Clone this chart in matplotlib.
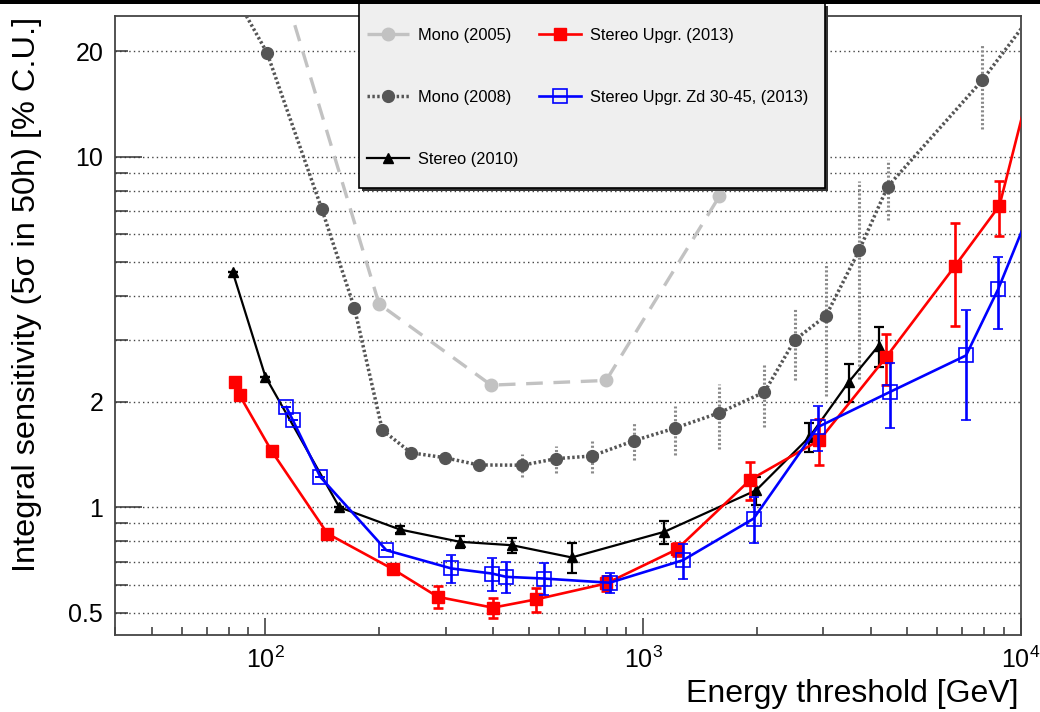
import matplotlib
matplotlib.use('Agg')
import matplotlib.pyplot as plt
from matplotlib.patches import Rectangle
from matplotlib.ticker import FixedLocator, FuncFormatter, NullFormatter

# Energy threshold [GeV] and integral sensitivity [% C.U.]
mono05_energy = [100, 200, 396, 798, 1590, 3000]
mono05_sens = [45, 3.8, 2.23, 2.30, 7.7, 28]

mono08_energy = [80, 101, 141, 172, 204, 243, 298, 367, 479, 589, 731, 948,
                 1211, 1585, 2094, 2519, 3049, 3732, 4436, 7889, 12000]
mono08_sens = [31, 19.8, 7.1, 3.71, 1.66, 1.43, 1.385, 1.32, 1.318, 1.376, 1.40,
               1.55, 1.68, 1.857, 2.13, 3.0, 3.52, 5.42, 8.21, 16.5, 30]
mono08_err = [0, 0, 0, 0, 0, 0, 0.03, 0.05, 0.1, 0.12, 0.15, 0.19,
              0.27, 0.39, 0.44, 0.7, 1.45, 3.1, 1.6, 4.5, 0]

stereo10_energy = [82, 100, 157, 227, 327, 450, 647, 1138, 1991, 2754, 3498, 4199]
stereo10_sens = [4.68, 2.36, 1.00, 0.864, 0.797, 0.779, 0.719, 0.851, 1.118,
                 1.586, 2.275, 2.89]
stereo10_err = [0, 0, 0, 0.02, 0.033, 0.04, 0.07, 0.065, 0.1, 0.15, 0.28, 0.38]

upgr_energy = [83, 85.5, 104, 146, 218, 286, 400, 521, 798, 1227, 1923, 2925,
               4396, 6700, 8770, 11000]
upgr_sens = [2.275, 2.085, 1.444, 0.841, 0.665, 0.555, 0.517, 0.546, 0.606,
             0.758, 1.199, 1.552, 2.68, 4.89, 7.25, 19]
upgr_err = [0, 0, 0, 0, 0.02, 0.04, 0.035, 0.044, 0.03, 0.03, 0.15, 0.23,
            0.45, 1.6, 1.3, 0]

zd_energy = [113.6, 118.3, 139.8, 209, 310.5, 397.6, 434, 545, 815, 1274, 1960,
             2898, 4488, 7153, 8710, 11000]
zd_sens = [1.931, 1.77, 1.22, 0.754, 0.669, 0.647, 0.633, 0.626, 0.609, 0.706,
           0.928, 1.693, 2.13, 2.71, 4.20, 7.8]
zd_err = [0, 0, 0, 0, 0.06, 0.07, 0.063, 0.065, 0.04, 0.08, 0.14, 0.25, 0.45,
          0.94, 0.97, 0]

labels = ['Mono (2005)', 'Mono (2008)', 'Stereo (2010)',
          'Stereo Upgr. (2013)', 'Stereo Upgr. Zd 30-45, (2013)']

y_major = [1, 10]
y_minor = [0.5, 0.6, 0.7, 0.8, 0.9, 2, 3, 4, 5, 6, 7, 8, 9, 20]
y_minor_labels = [0.5, 2, 20]

W, H = 1040, 712


def px_x(p):
    return p / W


def px_y(p):
    return 1 - p / H


def main():
    plt.rcParams['font.family'] = ['Liberation Sans', 'DejaVu Sans']
    plt.rcParams['mathtext.fontset'] = 'custom'
    plt.rcParams['mathtext.rm'] = 'Liberation Sans'
    plt.rcParams['mathtext.it'] = 'Liberation Sans:italic'
    plt.rcParams['mathtext.bf'] = 'Liberation Sans:bold'

    fig = plt.figure(figsize=(W / 100, H / 100), dpi=100)
    ax = fig.add_axes([px_x(115), px_y(635), px_x(1021) - px_x(115), px_y(16) - px_y(635)])

    # Mono (2005): light gray dashed
    h05, = ax.plot(mono05_energy, mono05_sens, color='#c2c2c2', lw=2.4,
                   ls=(0, (5, 3.2)), marker='o', ms=9, mec='#c2c2c2', mfc='#c2c2c2',
                   zorder=2)

    # Mono (2008): dark gray dotted with dotted error bars
    eb08 = ax.errorbar(mono08_energy, mono08_sens, yerr=mono08_err, color='#555555',
                       lw=2.5, ls=(0, (0.7, 0.7)), marker='o', ms=8.5, capsize=0,
                       elinewidth=2.2, zorder=3)
    eb08[2][0].set_linestyle((0, (0.7, 0.7)))
    eb08[2][0].set_color('#8a8a8a')
    h08 = eb08[0]

    # Stereo (2010)
    eb10 = ax.errorbar(stereo10_energy, stereo10_sens, yerr=stereo10_err, color='black',
                       lw=1.6, marker='^', ms=6.5, capsize=3.5, elinewidth=1.6,
                       capthick=1.6, zorder=4)
    h10 = eb10[0]

    # Stereo Upgr. (2013)
    ebu = ax.errorbar(upgr_energy, upgr_sens, yerr=upgr_err, color='#ff0000',
                      lw=1.9, marker='s', ms=8.5, capsize=3.5, elinewidth=1.9,
                      capthick=1.9, zorder=5)
    hu = ebu[0]

    # Stereo Upgr. Zd 30-45 (2013): open squares
    ebz = ax.errorbar(zd_energy, zd_sens, yerr=zd_err, color='#0000ff', lw=1.9,
                      marker='s', ms=9.5, mfc='none', mec='#0000ff', mew=1.2,
                      capsize=3.5, elinewidth=1.9, capthick=1.9, zorder=6)
    hz = ebz[0]

    ax.set_xscale('log')
    ax.set_yscale('log')
    ax.set_xlim(40, 10000)
    ax.set_ylim(0.432, 25.2)

    ax.yaxis.set_major_locator(FixedLocator(y_major))
    ax.yaxis.set_minor_locator(FixedLocator(y_minor))
    ax.yaxis.set_major_formatter(FuncFormatter(lambda v, p: '%g' % v))
    ax.yaxis.set_minor_formatter(
        FuncFormatter(lambda v, p: '%g' % v if any(abs(v - m) < 1e-9 for m in y_minor_labels) else ''))
    ax.xaxis.set_minor_formatter(NullFormatter())

    ax.grid(axis='y', which='both', color='#444444', lw=1.0, ls=(0, (1, 2.3)), zorder=0)
    ax.set_axisbelow(True)

    ax.tick_params(axis='both', which='both', direction='in', colors='#333333',
                   labelcolor='black', labelsize=18, width=1.1, top=False, right=False)
    ax.tick_params(axis='y', which='major', length=19.5, pad=8.5)
    ax.tick_params(axis='y', which='minor', length=9.5, pad=8.5)
    ax.tick_params(axis='x', which='major', length=12.5, pad=8)
    ax.tick_params(axis='x', which='minor', length=6)
    for s in ax.spines.values():
        s.set_color('#444444')
        s.set_linewidth(1.3)

    fig.text(px_x(1018), px_y(702), 'Energy threshold [GeV]', fontsize=23,
             ha='right', va='baseline')
    fig.text(px_x(12), px_y(17), 'Integral sensitivity (5σ in 50h) [% C.U.]',
             fontsize=23.4, rotation=90, ha='left', va='top')

    # legend box with shadow, drawn over the plot area
    fig.add_artist(Rectangle((px_x(362), px_y(191)), px_x(825) - px_x(359),
                             px_y(3) - px_y(188), transform=fig.transFigure,
                             facecolor='#333333', edgecolor='none', zorder=8))
    fig.add_artist(Rectangle((px_x(359), px_y(188)), px_x(825) - px_x(359),
                             px_y(3) - px_y(188), transform=fig.transFigure,
                             facecolor='#efefef', edgecolor='black', lw=1.2, zorder=9))
    leg = fig.legend([h05, h08, h10, hu, hz], labels, loc='upper left',
                     bbox_to_anchor=(px_x(367), px_y(28)), bbox_transform=fig.transFigure,
                     ncol=2, frameon=False, fontsize=11.8, borderpad=0,
                     handlelength=2.56, handletextpad=0.56, columnspacing=1.25,
                     labelspacing=2.87, borderaxespad=0)
    leg.set_zorder(10)

    # black strip along the top edge
    fig.add_artist(Rectangle((0, px_y(3.5)), 1, 3.5 / H, transform=fig.transFigure,
                             facecolor='black', edgecolor='none', zorder=11))

    fig.savefig('out.png', dpi=100)
    plt.close(fig)
    print("Saved out.png")


if __name__ == "__main__":
    main()
